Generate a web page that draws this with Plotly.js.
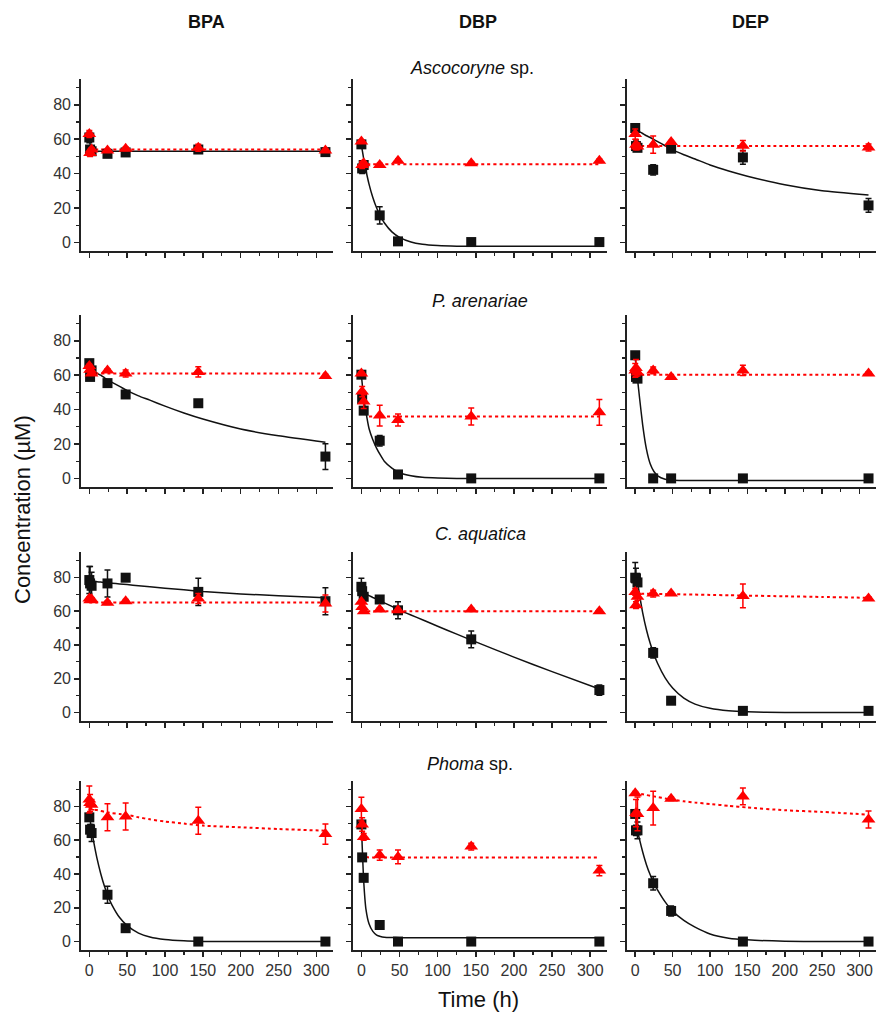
<!DOCTYPE html>
<html>
<head>
<meta charset="utf-8">
<script src="https://cdn.plot.ly/plotly-3.0.1.min.js"></script>
<style>html,body{margin:0;padding:0;background:#fff;}#chart{width:877px;height:1016px;}</style>
</head>
<body>
<div id="chart"></div>
<script>
// sampling times (h)
const times = [0, 1, 3, 24, 48, 144, 312];
// times at which fitted curves were read
const fitTimes = [0, 3, 6, 10, 15, 20, 25, 30, 40, 50, 65, 80, 100, 125, 150, 200, 250, 312];

const compounds = ["BPA", "DBP", "DEP"];
const fungi = ["<i>Ascocoryne</i> sp.", "<i>P. arenariae</i>", "<i>C. aquatica</i>", "<i>Phoma</i> sp."];

// ---- Ascocoryne sp. ----
const ascoBpaSq = [61, 54, 53, 51.5, 52.3, 54, 52.5];
const ascoBpaSqErr = [3, 2, 1, 1, 1, 1, 1];
const ascoBpaTri = [63, 52, 54, 53.5, 54.5, 55, 53.5];
const ascoBpaTriErr = [2, 2, 1, 1, 1, 2, 1];
const ascoBpaSqFit = [60, 53, 53, 53, 53, 53, 53, 53, 53, 53, 53, 53, 53, 53, 53, 53, 53, 53];
const ascoBpaTriFit = [54, 54, 54, 54, 54, 54, 54, 54, 54, 54, 54, 54, 54, 54, 54, 54, 54, 54];

const ascoDbpSq = [57, 43, 45, 15.7, 0.6, 0.2, 0.2];
const ascoDbpSqErr = [1, 3, 2, 5, 1, 0.5, 0.5];
const ascoDbpTri = [58.7, 45, 46, 45, 47.5, 46, 47.5];
const ascoDbpTriErr = [1, 2, 1, 1, 1, 1, 1];
const ascoDbpSqFit = [56.7, 48.7, 41.8, 33.9, 26.1, 20, 15.2, 11.4, 6.1, 2.9, 0.2, -1.1, -1.85, -2.2, -2.3, -2.3, -2.3, -2.3];
const ascoDbpTriFit = [45.5, 45.5, 45.5, 45.5, 45.5, 45.5, 45.5, 45.5, 45.5, 45.5, 45.5, 45.5, 45.5, 45.5, 45.5, 45.5, 45.5, 45.5];

const ascoDepSq = [66.5, 56, 55, 42.2, 54.5, 49.4, 21.5];
const ascoDepSqErr = [1, 3, 2, 3, 1, 4, 4];
const ascoDepTri = [63, 56.8, 55.8, 56.8, 58.3, 56.2, 55.2];
const ascoDepTriErr = [3, 3, 2, 5, 1, 3, 2];
const ascoDepSqFit = [65.5, 65, 64.3, 63.3, 62, 61, 59.8, 58.6, 56.2, 53.8, 51, 48.5, 45, 41.5, 38.5, 33.5, 30, 27.5];
const ascoDepTriFit = [56, 56, 56, 56, 56, 56, 56, 56, 56, 56, 56, 56, 56, 56, 56, 56, 56, 56];

// ---- P. arenariae ----
const pareBpaSq = [67, 59, 62.8, 55.4, 48.8, 43.7, 12.7];
const pareBpaSqErr = [1, 1, 1, 1, 1, 1, 7.5];
const pareBpaTri = [65.4, 63.2, 61, 62.8, 61, 61.9, 59.5];
const pareBpaTriErr = [1, 1, 1, 1, 2, 3, 1];
const pareBpaSqFit = [63.8, 63, 62.2, 61.2, 60, 58.5, 57, 55.8, 53.5, 51, 48, 45.5, 42, 38, 34.5, 28.7, 24.8, 21];
const pareBpaTriFit = [61, 61, 61, 61, 61, 61, 61, 61, 61, 61, 61, 61, 61, 61, 61, 61, 61, 61];

const pareDbpSq = [60.3, 46.2, 39.4, 21.9, 2.3, 0, 0];
const pareDbpSqErr = [1, 2, 1, 3, 1, 0.5, 0.5];
const pareDbpTri = [61, 50.5, 44.7, 36.5, 34, 36, 38.4];
const pareDbpTriErr = [1, 3, 4, 6, 3.5, 5, 7.5];
const pareDbpSqFit = [60, 47, 38.5, 29, 22.5, 17.5, 13.5, 10, 6, 3.3, 1.5, 0.6, 0.2, 0, 0, 0, 0, 0];
const pareDbpTriFit = [null, null, null, 36, 36, 36, 36, 36, 36, 36, 36, 36, 36, 36, 36, 36, 36, 36];

const pareDepSq = [71.6, 59, 58, 0, 0, 0, 0];
const pareDepSqErr = [2, 2, 1, 0.5, 0.5, 0.5, 0.5];
const pareDepTri = [62.8, 64.2, 61.5, 62.8, 59, 62.8, 61];
const pareDepTriErr = [4, 5, 2, 2, 1, 3, 1];
const pareDepSqFit = [69.7, 58, 46, 31, 17, 8.5, 4, 1.5, -0.5, -1.1, -1.2, -1.2, -1.2, -1.2, -1.2, -1.2, -1.2, -1.2];
const pareDepTriFit = [60.3, 60.3, 60.3, 60.3, 60.3, 60.3, 60.3, 60.3, 60.3, 60.3, 60.3, 60.3, 60.3, 60.3, 60.3, 60.3, 60.3, 60.3];

// ---- C. aquatica ----
const caquBpaSq = [78.4, 76.4, 75, 76.4, 79.8, 71.4, 65.9];
const caquBpaSqErr = [8, 10, 8, 8, 1, 8, 8];
const caquBpaTri = [67.5, 66.5, 67, 65, 65.9, 67.5, 64.5];
const caquBpaTriErr = [1, 1, 1, 1, 1, 3, 5];
const caquBpaSqFit = [77.8, 77.7, 77.6, 77.4, 77.2, 77, 76.7, 76.5, 76.1, 75.7, 75, 74.4, 73.6, 72.6, 71.6, 70.2, 69.1, 68];
const caquBpaTriFit = [65.1, 65.1, 65.1, 65.1, 65.1, 65.1, 65.1, 65.1, 65.1, 65.1, 65.1, 65.1, 65.1, 65.1, 65.1, 65.1, 65.1, 65.1];

const caquDbpSq = [74.4, 71.8, 68.5, 66.9, 60.5, 43.3, 13.3];
const caquDbpSqErr = [5, 2, 2, 1, 5, 5, 3];
const caquDbpTri = [65.5, 62.5, 60, 61, 60.5, 61, 60];
const caquDbpTriErr = [1, 1, 1, 1, 1, 1, 1];
const caquDbpSqFit = [71.4, 70.7, 70.1, 69.2, 68.1, 67.1, 66, 64.9, 62.8, 60.6, 57.7, 54.9, 51.1, 46.4, 41.8, 32.8, 24.2, 13.9];
const caquDbpTriFit = [59.9, 59.9, 59.9, 59.9, 59.9, 59.9, 59.9, 59.9, 59.9, 59.9, 59.9, 59.9, 59.9, 59.9, 59.9, 59.9, 59.9, 59.9];

const caquDepSq = [79.8, 79.4, 77, 35.3, 7, 1, 1];
const caquDepSqErr = [9, 6, 2, 3, 1, 0.5, 0.5];
const caquDepTri = [71.4, 63.5, 68.5, 70.4, 70.4, 69, 67.5];
const caquDepTriErr = [2, 2, 2, 2, 1, 7, 1];
const caquDepSqFit = [80, 77, 69, 59, 49, 41, 34.5, 29, 20.5, 14.5, 8.5, 5, 2.5, 1, 0.4, 0, 0, 0];
const caquDepTriFit = [70.4, 70.4, 70.35, 70.3, 70.3, 70.2, 70.2, 70.2, 70.1, 70, 69.9, 69.8, 69.6, 69.4, 69.2, 68.8, 68.4, 67.9];

// ---- Phoma sp. ----
const phomaBpaSq = [73.5, 66.2, 64.2, 27.7, 7.9, 0, 0];
const phomaBpaSqErr = [2, 3, 5, 5, 1, 0.5, 0.5];
const phomaBpaTri = [84, 82, 81, 73.5, 74, 71.5, 63.6];
const phomaBpaTriErr = [8, 5, 3, 8, 8, 8, 6];
const phomaBpaSqFit = [75, 66.2, 58.5, 49.5, 40.3, 32.7, 26.5, 21.6, 14.2, 9.4, 5, 2.7, 1.2, 0.4, 0.1, 0, 0, 0];
const phomaBpaTriFit = [79, 78.5, 78, 77.8, 77.3, 76.8, 76.4, 76, 75.5, 75, 73.5, 72.3, 71, 69.8, 68.6, 67.6, 66.6, 65.6];

const phomaDbpSq = [69.3, 49.8, 37.7, 9.8, 0, 0, 0];
const phomaDbpSqErr = [1, 1, 2, 2, 0.5, 0.5, 0.5];
const phomaDbpTri = [78.4, 69.3, 61.9, 51.1, 50.1, 56.2, 42];
const phomaDbpTriErr = [7, 4, 2, 3, 4, 2, 3];
const phomaDbpSqFit = [69.3, 36, 19, 10.5, 6, 3.8, 3, 2.6, 2.4, 2.3, 2.3, 2.3, 2.3, 2.3, 2.3, 2.3, 2.3, 2.3];
const phomaDbpTriFit = [null, null, 50, 49.8, 49.8, 49.8, 49.8, 49.8, 49.8, 49.8, 49.8, 49.8, 49.8, 49.8, 49.8, 49.8, 49.8, 49.8];

const phomaDepSq = [75.5, 65.8, 65.8, 34.5, 18.1, 0, 0];
const phomaDepSqErr = [1, 3, 5, 4, 3, 0.5, 0.5];
const phomaDepTri = [87.8, 76, 75.5, 79, 84.5, 85.9, 72.2];
const phomaDepTriErr = [1, 8, 10, 10, 1, 5, 5];
const phomaDepSqFit = [76, 66, 60, 53, 45.5, 39.5, 34.5, 30.5, 23.5, 18, 12.5, 8.5, 4.5, 2, 1, 0.2, 0, 0];
const phomaDepTriFit = [87.8, 87.6, 87.4, 87.1, 86.7, 86.3, 85.9, 85.5, 84.7, 83.9, 83, 82.2, 81.4, 80.3, 79.3, 77.7, 76.7, 75.1];

const xTicks = [0, 50, 100, 150, 200, 250, 300];
const yTicks = [0, 20, 40, 60, 80];

// panels in row-major order: [sq, sqErr, tri, triErr, sqFit, triFit]
const panels = [
  [ascoBpaSq, ascoBpaSqErr, ascoBpaTri, ascoBpaTriErr, ascoBpaSqFit, ascoBpaTriFit],
  [ascoDbpSq, ascoDbpSqErr, ascoDbpTri, ascoDbpTriErr, ascoDbpSqFit, ascoDbpTriFit],
  [ascoDepSq, ascoDepSqErr, ascoDepTri, ascoDepTriErr, ascoDepSqFit, ascoDepTriFit],
  [pareBpaSq, pareBpaSqErr, pareBpaTri, pareBpaTriErr, pareBpaSqFit, pareBpaTriFit],
  [pareDbpSq, pareDbpSqErr, pareDbpTri, pareDbpTriErr, pareDbpSqFit, pareDbpTriFit],
  [pareDepSq, pareDepSqErr, pareDepTri, pareDepTriErr, pareDepSqFit, pareDepTriFit],
  [caquBpaSq, caquBpaSqErr, caquBpaTri, caquBpaTriErr, caquBpaSqFit, caquBpaTriFit],
  [caquDbpSq, caquDbpSqErr, caquDbpTri, caquDbpTriErr, caquDbpSqFit, caquDbpTriFit],
  [caquDepSq, caquDepSqErr, caquDepTri, caquDepTriErr, caquDepSqFit, caquDepTriFit],
  [phomaBpaSq, phomaBpaSqErr, phomaBpaTri, phomaBpaTriErr, phomaBpaSqFit, phomaBpaTriFit],
  [phomaDbpSq, phomaDbpSqErr, phomaDbpTri, phomaDbpTriErr, phomaDbpSqFit, phomaDbpTriFit],
  [phomaDepSq, phomaDepSqErr, phomaDepTri, phomaDepTriErr, phomaDepSqFit, phomaDepTriFit]
];

const W = 877, H = 1016;
const colPx = [[81, 333], [353, 607], [627, 876]];
const rowPx = [[79, 251], [315, 487], [552, 721], [781, 950]];

const FONT = "Liberation Sans, Arial, sans-serif";
const BLACK = "#111111";
const RED = "#ff0000";
const AXC = "#222222";

const traces = [];
const layout = {
  width: W, height: H,
  margin: {l: 0, r: 0, t: 0, b: 0},
  paper_bgcolor: "#ffffff", plot_bgcolor: "#ffffff",
  showlegend: false,
  font: {family: FONT, color: "#222"},
  annotations: []
};

panels.forEach((p, i) => {
  const r = Math.floor(i / 3), c = i % 3;
  const n = i + 1;
  const xa = "x" + (n === 1 ? "" : n), ya = "y" + (n === 1 ? "" : n);
  const [sq, sqErr, tri, triErr, sqFit, triFit] = p;
  traces.push({x: fitTimes, y: sqFit, xaxis: xa, yaxis: ya, mode: "lines", type: "scatter",
    line: {color: BLACK, width: 1.5, shape: "spline", smoothing: 0.5}, hoverinfo: "skip"});
  traces.push({x: fitTimes, y: triFit, xaxis: xa, yaxis: ya, mode: "lines", type: "scatter",
    line: {color: RED, width: 2, dash: "dot", shape: "spline", smoothing: 0.5}, connectgaps: false, hoverinfo: "skip"});
  traces.push({x: times, y: sq, xaxis: xa, yaxis: ya, mode: "markers", type: "scatter",
    marker: {symbol: "square", size: 10, color: BLACK},
    error_y: {type: "data", array: sqErr, visible: true, color: BLACK, thickness: 1.5, width: 3}});
  traces.push({x: times, y: tri, xaxis: xa, yaxis: ya, mode: "markers", type: "scatter",
    marker: {symbol: "triangle-up", size: 12, color: RED},
    error_y: {type: "data", array: triErr, visible: true, color: RED, thickness: 1.5, width: 3}});

  const xKey = "xaxis" + (n === 1 ? "" : n), yKey = "yaxis" + (n === 1 ? "" : n);
  layout[xKey] = {
    domain: [colPx[c][0] / W, colPx[c][1] / W], anchor: ya,
    range: [-11, 322], tickvals: xTicks, ticktext: xTicks.map(String),
    showticklabels: r === 3, ticks: "outside", ticklen: 5, tickwidth: 1.5, tickcolor: AXC,
    minor: {ticks: "outside", ticklen: 3, tickwidth: 1.2, tickcolor: AXC, tickvals: [25, 75, 125, 175, 225, 275]},
    showline: true, linecolor: AXC, linewidth: 1.8, showgrid: false, zeroline: false,
    tickfont: {family: FONT, size: 16, color: "#333"}, fixedrange: true
  };
  layout[yKey] = {
    domain: [1 - rowPx[r][1] / H, 1 - rowPx[r][0] / H], anchor: xa,
    range: [-5, 95], tickvals: yTicks, ticktext: yTicks.map(String),
    showticklabels: c === 0, ticks: "outside", ticklen: 5, tickwidth: 1.5, tickcolor: AXC,
    minor: {ticks: "outside", ticklen: 3, tickwidth: 1.2, tickcolor: AXC, tickvals: [10, 30, 50, 70, 90]},
    showline: true, linecolor: AXC, linewidth: 1.8, showgrid: false, zeroline: false,
    tickfont: {family: FONT, size: 16, color: "#333"}, fixedrange: true
  };
});

// column headers
const headerX = [206, 478, 750];
compounds.forEach((t, i) => {
  layout.annotations.push({text: "<b>" + t + "</b>", xref: "paper", yref: "paper",
    x: headerX[i] / W, y: 1 - 22 / H, showarrow: false, xanchor: "center", yanchor: "middle",
    font: {family: FONT, size: 18, color: "#111"}});
});
// row titles
const rowTitleY = [68, 301, 534, 764];
const rowTitleX = [472, 480, 480, 470];
fungi.forEach((t, i) => {
  layout.annotations.push({text: t, xref: "paper", yref: "paper",
    x: rowTitleX[i] / W, y: 1 - rowTitleY[i] / H, showarrow: false, xanchor: "center", yanchor: "middle",
    font: {family: FONT, size: 18, color: "#111"}});
});
// axis titles
layout.annotations.push({text: "Concentration (µM)", xref: "paper", yref: "paper",
  x: 22 / W, y: 1 - 510 / H, showarrow: false, textangle: -90, xanchor: "center", yanchor: "middle",
  font: {family: FONT, size: 22, color: "#111"}});
layout.annotations.push({text: "Time (h)", xref: "paper", yref: "paper",
  x: 478 / W, y: 1 - 999 / H, showarrow: false, xanchor: "center", yanchor: "middle",
  font: {family: FONT, size: 22, color: "#111"}});

Plotly.newPlot("chart", traces, layout, {staticPlot: true, displayModeBar: false});
</script>
</body>
</html>
